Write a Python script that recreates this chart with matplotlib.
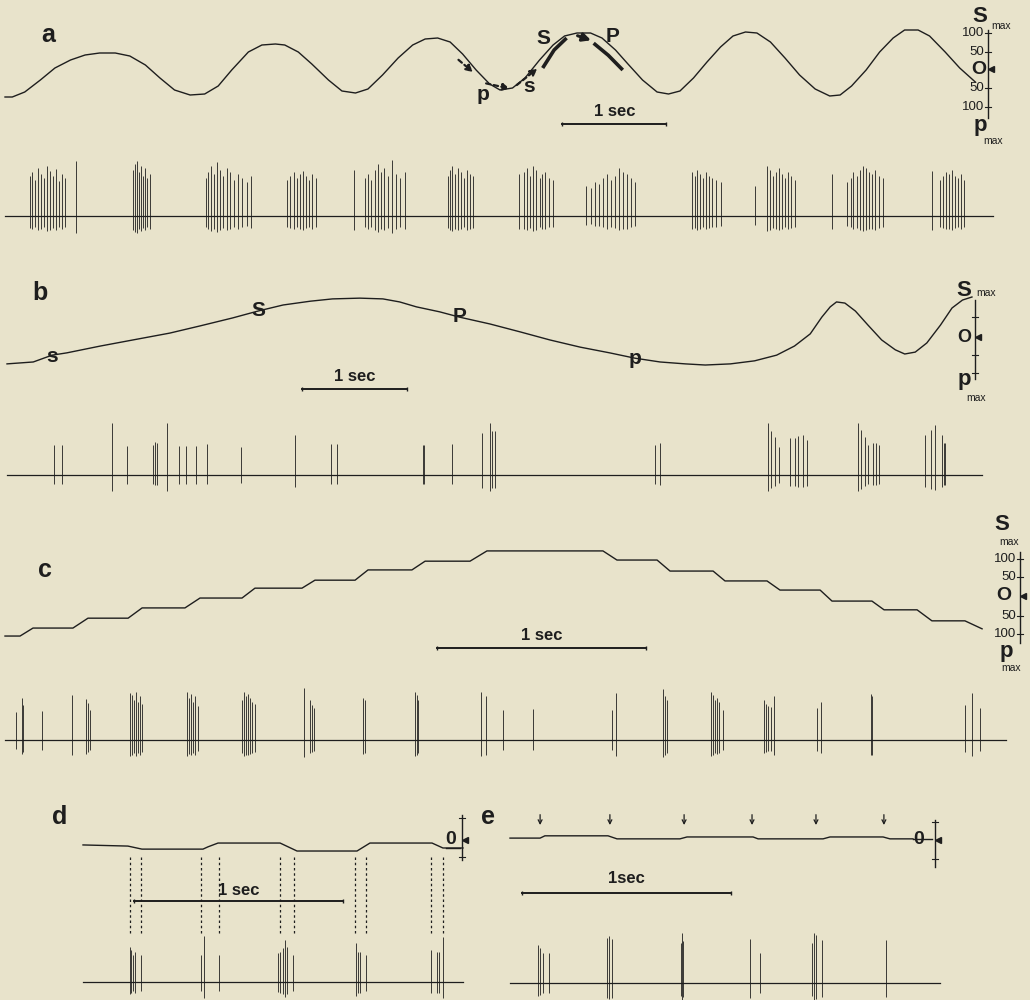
import numpy as np
import matplotlib
matplotlib.use('Agg')
import matplotlib.pyplot as plt

plt.rcParams['font.family'] = ['Liberation Sans', 'DejaVu Sans']

W, H = 1030, 1000
BG = '#e8e3cb'
INK = '#1e1e1e'

# ---- data ----
# time in s, displacement in % of max, spike amplitude in arbitrary units

# a: sinusoidal deflection
a_time = [0.00, 0.07, 0.19, 0.34, 0.48, 0.63, 0.77, 0.91, 1.06, 1.20, 1.35, 1.49, 1.63,
          1.78, 1.92, 2.05, 2.18, 2.34, 2.47, 2.60, 2.69, 2.82, 2.95, 3.11, 3.24, 3.37,
          3.49, 3.63, 3.78, 3.92, 4.04, 4.16, 4.28, 4.40, 4.53, 4.66, 4.76, 4.88, 5.00,
          5.14, 5.27, 5.38, 5.50, 5.63, 5.74, 5.87, 5.99, 6.13, 6.27, 6.38, 6.49, 6.62,
          6.75, 6.88, 7.00, 7.12, 7.23, 7.36, 7.50, 7.64, 7.79, 7.93, 8.03, 8.14, 8.28,
          8.41, 8.54, 8.65, 8.78, 8.89, 9.04, 9.18, 9.33]
a_disp = [-67.5, -67.5, -55, -25, 5, 25, 37.5, 42.5, 42.5, 35, 12.5, -20, -50,
          -62.5, -60, -40, 0, 45, 62.5, 65, 62.5, 45, 15, -25, -52.5, -57.5,
          -47.5, -12.5, 30, 62.5, 77.5, 80, 70, 40, 0, -35, -50, -45, -20,
          25, 62.5, 85, 92.5, 92.5, 80, 50, 15, -25, -55, -60, -52.5, -20,
          20, 57.5, 85, 95, 92.5, 70, 30, -12.5, -47.5, -65, -62.5, -40, 0,
          45, 80, 100, 100, 85, 45, 5, -30]
a_spike_t = [0.24, 0.26, 0.29, 0.32, 0.35, 0.375, 0.40, 0.43, 0.46, 0.49, 0.52, 0.55, 0.58, 0.68,
             1.23, 1.25, 1.27, 1.29, 1.31, 1.33, 1.35, 1.37, 1.39,
             1.93, 1.95, 1.98, 2.01, 2.04, 2.07, 2.10, 2.13, 2.16, 2.20, 2.24, 2.28, 2.33, 2.37,
             2.71, 2.74, 2.78, 2.81, 2.84, 2.87, 2.89, 2.92, 2.95, 2.99,
             3.36,
             3.46, 3.49, 3.52, 3.56, 3.59, 3.62, 3.64, 3.68, 3.72, 3.76, 3.80, 3.85,
             4.26, 4.28, 4.30, 4.33, 4.36, 4.38, 4.41, 4.44, 4.47, 4.50,
             4.94, 4.99, 5.02, 5.05, 5.08, 5.11, 5.14, 5.16, 5.19, 5.23, 5.27,
             5.59, 5.63, 5.67, 5.71, 5.75, 5.79, 5.83, 5.87, 5.90, 5.94, 5.98, 6.02, 6.06,
             6.61, 6.63, 6.65, 6.68, 6.71, 6.74, 6.77, 6.80, 6.84, 6.88, 7.21,
             7.33, 7.36, 7.38, 7.41, 7.44, 7.47, 7.50, 7.53, 7.56, 7.60,
             7.95, 8.10, 8.13, 8.15, 8.19, 8.22, 8.25, 8.28, 8.31, 8.34, 8.37, 8.40, 8.44,
             8.91, 8.99, 9.02, 9.05, 9.08, 9.11, 9.13, 9.16, 9.19, 9.22]
a_spike_amp = [40, 44, 36, 48, 42, 38, 50, 45, 40, 47, 35, 42, 38, 55,
               46, 52, 55, 44, 50, 40, 48, 38, 42,
               38, 44, 50, 42, 54, 46, 40, 48, 44, 36, 42, 38, 34, 40,
               36, 40, 44, 38, 42, 45, 40, 36, 42, 38,
               46,
               38, 42, 36, 46, 52, 44, 48, 40, 56, 42, 38, 44,
               40, 46, 50, 42, 48, 44, 38, 46, 42, 40,
               42, 44, 48, 40, 50, 46, 38, 42, 44, 38, 36,
               30, 28, 34, 32, 38, 42, 36, 40, 48, 44, 42, 38, 34,
               44, 40, 46, 42, 38, 44, 40, 38, 36, 34, 30,
               50, 46, 40, 44, 48, 42, 38, 44, 40, 36,
               42, 34, 38, 44, 40, 46, 50, 48, 44, 42, 46, 40, 38,
               45, 36, 40, 44, 42, 46, 40, 38, 42, 36]

# b: slow ramp-like deflection followed by one fast cycle
b_time = [0, 0.25, 0.43, 0.57, 0.89, 1.20, 1.55, 1.84, 2.15, 2.39, 2.63, 2.89, 3.10,
          3.36, 3.58, 3.74, 3.90, 4.12, 4.31, 4.60, 4.89, 5.17, 5.46, 5.74, 5.98,
          6.22, 6.46, 6.65, 6.89, 7.12, 7.33, 7.50, 7.65, 7.76, 7.84, 7.90, 7.98,
          8.08, 8.20, 8.33, 8.46, 8.55, 8.65, 8.76, 8.89, 9.00, 9.10, 9.19]
b_disp = [-76, -71, -53, -47, -29, -13, 5, 24, 45, 63, 79, 89, 95,
          97, 95, 87, 74, 61, 47, 29, 8, -13, -32, -47, -61,
          -71, -76, -79, -76, -68, -53, -29, 3, 47, 74, 87, 84,
          63, 26, -13, -39, -50, -45, -21, 26, 71, 92, 100]
b_spike_t = [0.45, 0.52, 1.00, 1.14, 1.39, 1.41, 1.43, 1.52, 1.64, 1.70, 1.80, 1.90,
             2.23, 2.74, 3.09, 3.14, 3.96, 3.97, 4.24, 4.52, 4.60, 4.62, 4.65, 6.17,
             6.22, 7.25, 7.28, 7.31, 7.35, 7.46, 7.50, 7.53, 7.58, 7.62, 8.10, 8.13,
             8.17, 8.20, 8.25, 8.28, 8.30, 8.74, 8.80, 8.84, 8.90, 8.92, 8.93]
b_spike_amp = [30, 30, 52, 29, 30, 33, 32, 52, 29, 29, 29, 31,
               28, 40, 31, 31, 30, 30, 31, 42, 52, 44, 44, 30,
               32, 52, 44, 38, 28, 37, 37, 39, 40, 35, 52, 45,
               38, 30, 32, 32, 30, 40, 45, 50, 40, 32, 32]

# c: staircase deflection
c_time = [0, 0.072, 0.134, 0.325, 0.397, 0.589, 0.656, 0.861, 0.933, 1.134, 1.196,
          1.421, 1.483, 1.675, 1.737, 1.947, 2.010, 2.225, 2.306, 2.861, 2.928,
          3.120, 3.182, 3.388, 3.445, 3.646, 3.708, 3.900, 3.957, 4.148, 4.206,
          4.364, 4.435, 4.593, 4.675]
c_disp = [-108, -108, -87, -87, -61, -61, -34, -34, -8, -8, 18,
          18, 39, 39, 66, 66, 89, 89, 116, 116, 92,
          92, 63, 63, 37, 37, 13, 13, -16, -16, -39,
          -39, -68, -68, -89]
c_spike_t = [0.053, 0.081, 0.086, 0.177, 0.321, 0.388, 0.397, 0.407,
             0.598, 0.608, 0.617, 0.627, 0.636, 0.646, 0.656,
             0.871, 0.880, 0.890, 0.900, 0.909, 0.923,
             1.134, 1.144, 1.153, 1.163, 1.172, 1.182, 1.196,
             1.431, 1.459, 1.469, 1.478, 1.713, 1.722, 1.962, 1.971, 1.976,
             2.278, 2.301, 2.383, 2.526, 2.904, 2.923, 3.148, 3.158, 3.167,
             3.378, 3.388, 3.397, 3.407, 3.416, 3.435,
             3.632, 3.641, 3.651, 3.665, 3.679, 3.885, 3.904, 4.144, 4.148,
             4.593, 4.627, 4.665]
c_spike_amp = [28, 42, 35, 29, 45, 41, 37, 30,
               47, 45, 40, 48, 38, 44, 36,
               48, 42, 46, 38, 44, 34,
               40, 48, 44, 46, 42, 38, 36,
               52, 40, 35, 32, 42, 40, 48, 45, 40,
               48, 44, 30, 31, 30, 47, 51, 44, 40,
               48, 45, 40, 42, 38, 30,
               40, 36, 34, 33, 44, 32, 38, 46, 44,
               35, 47, 32]

# d: small square-wave deflection
d_time = [0, 0.215, 0.282, 0.574, 0.598, 0.646, 0.943, 1.024, 1.311, 1.373,
          1.670, 1.722, 1.818]
d_disp = [-13, -16, -24, -24, -18, -8, -8, -29, -29, -8, -8, -21, -21]
d_marks = [0.225, 0.278, 0.565, 0.651, 0.943, 1.010, 1.301, 1.354, 1.665, 1.722]
d_spike_t = [0.225, 0.230, 0.239, 0.249, 0.278, 0.565, 0.579, 0.651, 0.933, 0.943,
             0.957, 0.967, 0.976, 1.005, 1.306, 1.316, 1.325, 1.354, 1.665, 1.694,
             1.703, 1.722]
d_spike_amp = [35, 32, 27, 30, 27, 27, 46, 27, 29, 30,
               34, 42, 35, 27, 39, 30, 30, 27, 32, 30,
               30, 45]

# e: tiny deflection steps (arrows)
e_time = [0, 0.144, 0.167, 0.469, 0.512, 0.813, 0.847, 1.163, 1.187, 1.498,
          1.531, 1.785, 1.818, 1.928]
e_disp = [5, 5, 11, 11, 3, 3, 8, 8, 3, 3, 8, 8, 3, 3]
e_arrows = [0.144, 0.478, 0.833, 1.158, 1.464, 1.789]
e_spike_t = [0.134, 0.144, 0.158, 0.187, 0.464, 0.474, 0.488, 0.818, 0.823, 0.828,
             1.148, 1.196, 1.445, 1.455, 1.464, 1.493, 1.799]
e_spike_amp = [38, 35, 30, 30, 45, 47, 44, 40, 50, 42,
               44, 30, 40, 50, 48, 43, 43]

# ---- drawing ----
fig = plt.figure(figsize=(W / 100, H / 100), dpi=100, facecolor=BG)


def trace_axes(x0, ppx, y0, ppy):
    # full-figure axes: data x=0 at pixel x0, data y=0 at pixel row y0
    ax = fig.add_axes([0, 0, 1, 1])
    ax.set_xlim(-x0 / ppx, (W - x0) / ppx)
    ax.set_ylim((y0 - H) / ppy, y0 / ppy)
    ax.axis('off')
    ax.patch.set_visible(False)
    return ax


def spikes(ax, t, amp, t_end, down=0.3):
    amp = np.asarray(amp, dtype=float)
    ax.plot([0, t_end], [0, 0], color=INK, lw=0.9)
    ax.vlines(t, -down * amp, amp, color=INK, lw=0.6)


def scalebar(ax, t0, y, ylab, label):
    ax.plot([t0, t0 + 1], [y, y], color=INK, lw=1.4, marker='|', ms=3, mew=1)
    ax.text(t0 + 0.5, ylab, label, ha='center', va='bottom', fontsize=12,
            fontweight='bold', color=INK)


px = trace_axes(0, 1, 0, -1)   # pixel axes for labels and scale columns

# panel a
ax_a = trace_axes(5, 104, 70, 0.4)
ax_a.plot(a_time, a_disp, color=INK, lw=1.0)
scalebar(ax_a, 5.36, -135, -122, '1 sec')
dash = dict(arrowstyle='-|>', ls=(0, (2, 1.5)), lw=1.6, color=INK, mutation_scale=10)
ax_a.annotate('', xy=(4.52, -10), xytext=(4.34, 30), arrowprops=dash)
ax_a.annotate('', xy=(4.88, -48), xytext=(4.60, -32), arrowprops=dash)
ax_a.annotate('', xy=(5.14, 8), xytext=(4.90, -42), arrowprops=dash)
ax_a.plot([5.17, 5.28, 5.40], [5, 50, 80], color=INK, lw=2.6, solid_capstyle='butt')
ax_a.annotate('', xy=(5.66, 72), xytext=(5.48, 88),
              arrowprops=dict(arrowstyle='-|>', lw=2.2, color=INK, mutation_scale=12))
ax_a.plot([5.66, 5.80, 5.94], [67, 37, 0], color=INK, lw=2.6, solid_capstyle='butt')

ax_as = trace_axes(5, 104, 216, 1)
spikes(ax_as, a_spike_t, a_spike_amp, 9.5, down=0.3)

# panel b
ax_b = trace_axes(7, 105, 335, 0.38)
ax_b.plot(b_time, b_disp, color=INK, lw=1.0)
scalebar(ax_b, 2.81, -142, -129, '1 sec')
ax_bs = trace_axes(7, 105, 475, 1)
spikes(ax_bs, b_spike_t, b_spike_amp, 9.29, down=0.3)

# panel c
ax_c = trace_axes(5, 209, 595, 0.38)
ax_c.plot(c_time, c_disp, color=INK, lw=1.0)
scalebar(ax_c, 2.067, -139.5, -126, '1 sec')
ax_cs = trace_axes(5, 209, 740, 1)
spikes(ax_cs, c_spike_t, c_spike_amp, 4.79, down=0.33)

# panel d
ax_d = trace_axes(83, 209, 840, 0.38)
ax_d.plot(d_time, d_disp, color=INK, lw=1.0)
ax_d.vlines(d_marks, -245, -40, color=INK, lw=0.9, linestyles=(0, (2, 2.2)))
scalebar(ax_d, 0.244, -160, -153, '1 sec')
ax_ds = trace_axes(83, 209, 982, 1)
spikes(ax_ds, d_spike_t, d_spike_amp, 1.818, down=0.35)

# panel e
ax_e = trace_axes(510, 209, 840, 0.38)
ax_e.plot(e_time, e_disp, color=INK, lw=1.0)
for t in e_arrows:
    ax_e.annotate('', xy=(t, 32), xytext=(t, 74),
                  arrowprops=dict(arrowstyle='->', lw=0.9, color=INK, mutation_scale=7))
scalebar(ax_e, 0.057, -139.5, -121, '1sec')
ax_es = trace_axes(510, 209, 983, 1)
spikes(ax_es, e_spike_t, e_spike_amp, 2.057, down=0.33)

# ---- labels (pixel coordinates) ----
for lab, x, y in [('a', 48, 35), ('b', 40, 293), ('c', 45, 570), ('d', 60, 817), ('e', 488, 817)]:
    px.text(x, y, lab, ha='center', va='center', fontsize=18, fontweight='bold', color=INK)

box = dict(boxstyle='square,pad=0.05', fc=BG, ec='none')
for lab, x, y in [('p', 483, 94), ('s', 529, 86), ('S', 543, 38), ('P', 613, 37)]:
    px.text(x, y, lab, ha='center', va='center', fontsize=15, fontweight='bold', color=INK)
for lab, x, y in [('s', 52, 356), ('S', 258, 311), ('P', 460, 317), ('p', 635, 358)]:
    px.text(x, y, lab, ha='center', va='center', fontsize=15, fontweight='bold',
            color=INK, bbox=box)


def column(x, top, bottom, zero, ticks, nums, num_x, ozero_x, osize=14):
    px.plot([x, x], [top, bottom], color=INK, lw=1.0)
    for yy in ticks:
        px.plot([x - 3, x + 3], [yy, yy], color=INK, lw=0.8)
    for yy, s in nums:
        px.text(num_x, yy, s, ha='right', va='center', fontsize=9.5, color=INK)
    px.plot([x + 3], [zero], marker='<', ms=5, color=INK)
    px.text(ozero_x, zero, 'O', ha='center', va='center', fontsize=osize,
            fontweight='bold', color=INK)


def label_max(x, y, letter, mx, my):
    px.text(x, y, letter, ha='center', va='center', fontsize=16, fontweight='bold',
            color=INK)
    px.text(mx, my, 'max', ha='center', va='center', fontsize=7.5, color=INK)


column(988, 30, 118, 69, [33, 52, 88, 107],
       [(33, '100'), (52, '50'), (88, '50'), (107, '100')], 984, 979)
label_max(980, 16, 'S', 1001, 26)
label_max(980, 126, 'p', 993, 141)

column(975, 300, 379, 337, [317, 355, 373], [], 970, 964, osize=13)
label_max(964, 290, 'S', 986, 293)
label_max(964, 380, 'p', 976, 398)

column(1020, 552, 643, 596, [559, 577, 616, 634],
       [(559, '100'), (577, '50'), (616, '50'), (634, '100')], 1016, 1004)
label_max(1002, 525, 'S', 1009, 542)
label_max(1006, 652, 'p', 1011, 668)

# small zero markers of d and e
for x, ox, top, bot, t1, t2 in [(462, 451, 815, 860, 818, 857), (935, 919, 820, 867, 822, 859)]:
    px.plot([x, x], [top, bot], color=INK, lw=1.0)
    px.plot([x - 3, x + 3], [t1, t1], color=INK, lw=0.8)
    px.plot([x - 3, x + 3], [t2, t2], color=INK, lw=0.8)
    px.plot([x + 3], [840], marker='<', ms=5, color=INK)
    px.text(ox, 840, '0', ha='center', va='center', fontsize=14, fontweight='bold', color=INK)
px.plot([913, 932], [839, 839], color=INK, lw=1.0)
px.plot([446, 460], [848, 848], color=INK, lw=1.0)

fig.savefig('out.png', dpi=100, facecolor=BG)
